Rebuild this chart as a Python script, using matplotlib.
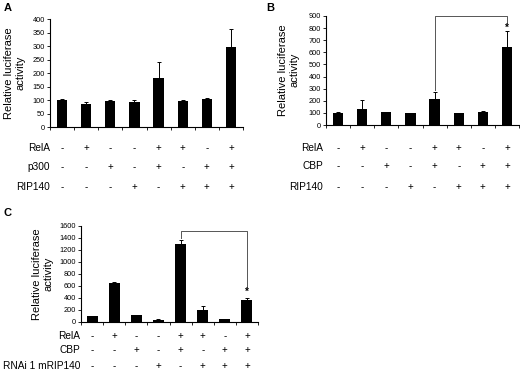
import matplotlib.pyplot as plt
import matplotlib.transforms as mtransforms
import numpy as np

plt.rcParams['font.family'] = ['Liberation Sans', 'DejaVu Sans']

# panel A
a_vals = [100, 85, 98, 93, 180, 95, 102, 295]
a_err = [3, 6, 3, 7, 60, 6, 7, 68]
a_rows = ['RelA', 'p300', 'RIP140']
a_signs = [['-', '+', '-', '-', '+', '+', '-', '+'],
           ['-', '-', '+', '-', '+', '-', '+', '+'],
           ['-', '-', '-', '+', '-', '+', '+', '+']]

# panel B
b_vals = [100, 130, 105, 95, 215, 95, 110, 640]
b_err = [5, 80, 5, 5, 60, 5, 8, 140]
b_rows = ['RelA', 'CBP', 'RIP140']
b_signs = a_signs

# panel C
c_vals = [100, 650, 110, 40, 1300, 200, 45, 375]
c_err = [5, 25, 5, 5, 70, 60, 5, 30]
c_rows = ['RelA', 'CBP', 'RNAi 1 mRIP140']
c_signs = a_signs

W, H = 520, 371
fig = plt.figure(figsize=(W / 100, H / 100), dpi=100)


def px_ax(l, t, r, b):
    return fig.add_axes([l / W, 1 - b / H, (r - l) / W, (b - t) / H])


def bar_panel(ax, vals, err, ymax, ystep, width=0.42):
    x = np.arange(len(vals))
    ax.bar(x, vals, width=width, color='black', zorder=2)
    ax.errorbar(x, vals, yerr=[np.zeros(len(err)), err], fmt='none',
                ecolor='black', elinewidth=0.7, capsize=1.5, capthick=0.7)
    ax.set_xlim(-0.5, len(vals) - 0.5)
    ax.set_ylim(0, ymax)
    ax.set_yticks(np.arange(0, ymax + 1, ystep))
    ax.set_xticks(np.arange(-0.5, len(vals)), labels=[])
    ax.tick_params(axis='x', direction='out', length=2, width=0.6)
    ax.tick_params(axis='y', direction='out', length=2, width=0.6, labelsize=5.3, pad=1.5)
    for s in ['top', 'right']:
        ax.spines[s].set_visible(False)
    for s in ['left', 'bottom']:
        ax.spines[s].set_linewidth(0.8)


def ylab(x, y):
    fig.text(x / W, 1 - y / H, 'Relative luciferase\nactivity', rotation=90,
             ha='center', va='center', fontsize=8, linespacing=1.25, multialignment='center')


def sign_rows(ax, rows, signs, ys, label_x):
    tr = mtransforms.blended_transform_factory(ax.transData, fig.transFigure)
    for name, row, y in zip(rows, signs, ys):
        fig.text(label_x / W, 1 - y / H, name, ha='right', va='center', fontsize=7.3)
        for i, s in enumerate(row):
            ax.text(i, 1 - y / H, s, transform=tr, ha='center', va='center', fontsize=7)


def bracket(ax, x0, x1, ytop, y0, y1, star_y):
    ax.plot([x0, x0, x1, x1], [y0, ytop, ytop, y1], color='#555555', lw=0.7, clip_on=False)
    ax.text(x1, star_y, '*', ha='center', va='center', fontsize=7, fontweight='bold')


axA = px_ax(50, 19, 243, 127)
bar_panel(axA, a_vals, a_err, 400, 50)
ylab(15, 73)
sign_rows(axA, a_rows, a_signs, [148, 167, 187], 50)

axB = px_ax(326, 16, 519, 125)
bar_panel(axB, b_vals, b_err, 900, 100)
ylab(289, 70)
sign_rows(axB, b_rows, b_signs, [148, 166, 187], 323)
bracket(axB, 4, 7, 900, 290, 840, 805)

axC = px_ax(81, 226, 258, 322)
bar_panel(axC, c_vals, c_err, 1600, 200, width=0.5)
ylab(43, 274)
sign_rows(axC, c_rows, c_signs, [336, 350, 366], 80)
bracket(axC, 4, 7, 1515, 1400, 580, 500)

fig.text(4 / W, 1 - 8 / H, 'A', fontsize=8, fontweight='bold', va='center')
fig.text(266 / W, 1 - 8 / H, 'B', fontsize=8, fontweight='bold', va='center')
fig.text(4 / W, 1 - 213 / H, 'C', fontsize=8, fontweight='bold', va='center')

fig.savefig('out.png', dpi=100)
